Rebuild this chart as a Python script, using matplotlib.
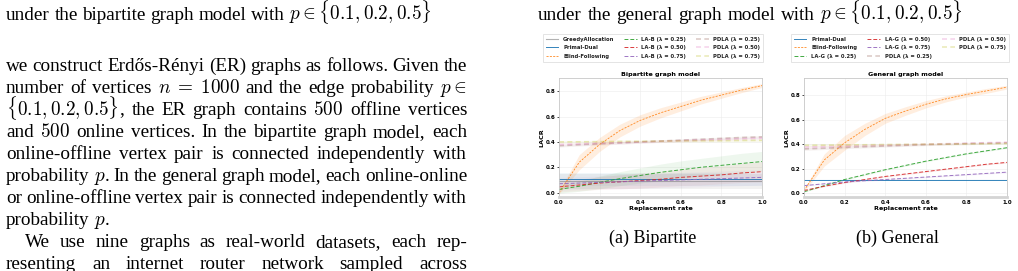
import numpy as np
import matplotlib
matplotlib.use('Agg')
import matplotlib.pyplot as plt

plt.rcParams['mathtext.fontset'] = 'cm'

W, H = 1018, 271

# replacement rate (x axis)
rate = [0.0, 0.1, 0.2, 0.3, 0.4, 0.5, 0.6, 0.7, 0.8, 0.9, 1.0]

# --- bipartite graph model: mean LACR and spread ---
greedy_b = [0.088, 0.088, 0.088, 0.088, 0.088, 0.088, 0.088, 0.088, 0.088, 0.088, 0.088]
greedy_b_sd = [0.06, 0.06, 0.06, 0.06, 0.06, 0.06, 0.06, 0.06, 0.06, 0.06, 0.06]
pd_b = [0.104, 0.104, 0.104, 0.104, 0.104, 0.104, 0.104, 0.104, 0.104, 0.104, 0.104]
pd_b_sd = [0.05, 0.05, 0.05, 0.05, 0.05, 0.05, 0.05, 0.05, 0.05, 0.05, 0.05]
blind_b = [0.0, 0.24, 0.38, 0.49, 0.57, 0.63, 0.68, 0.73, 0.77, 0.81, 0.845]
blind_b_sd = [0.01, 0.06, 0.055, 0.05, 0.045, 0.04, 0.035, 0.03, 0.025, 0.02, 0.015]
lab025 = [0.025, 0.05, 0.08, 0.11, 0.135, 0.16, 0.18, 0.20, 0.215, 0.23, 0.245]
lab025_sd = [0.03, 0.04, 0.05, 0.055, 0.06, 0.065, 0.07, 0.07, 0.075, 0.08, 0.08]
lab050 = [0.045, 0.06, 0.075, 0.085, 0.095, 0.105, 0.12, 0.13, 0.14, 0.155, 0.165]
lab050_sd = [0.04, 0.045, 0.05, 0.055, 0.06, 0.06, 0.065, 0.07, 0.07, 0.075, 0.08]
lab075 = [0.07, 0.075, 0.08, 0.085, 0.09, 0.095, 0.10, 0.105, 0.11, 0.115, 0.12]
lab075_sd = [0.05, 0.05, 0.05, 0.055, 0.055, 0.055, 0.06, 0.06, 0.06, 0.06, 0.06]
pdla025_b = [0.37, 0.378, 0.385, 0.392, 0.40, 0.407, 0.414, 0.421, 0.428, 0.435, 0.44]
pdla050_b = [0.38, 0.385, 0.39, 0.395, 0.40, 0.405, 0.41, 0.415, 0.42, 0.425, 0.43]
pdla075_b = [0.40, 0.401, 0.402, 0.404, 0.405, 0.406, 0.408, 0.409, 0.41, 0.412, 0.413]
pdla_b_sd = [0.01, 0.01, 0.01, 0.01, 0.01, 0.01, 0.01, 0.01, 0.01, 0.01, 0.01]

# --- general graph model ---
pd_g = [0.11, 0.11, 0.11, 0.11, 0.11, 0.11, 0.11, 0.11, 0.11, 0.11, 0.11]
blind_g = [0.02, 0.27, 0.41, 0.52, 0.61, 0.67, 0.725, 0.77, 0.805, 0.835, 0.865]
blind_g_sd = [0.01, 0.05, 0.06, 0.05, 0.04, 0.035, 0.03, 0.025, 0.02, 0.02, 0.015]
lag025 = [0.01, 0.06, 0.11, 0.15, 0.19, 0.225, 0.26, 0.29, 0.32, 0.345, 0.37]
lag050 = [0.02, 0.055, 0.085, 0.11, 0.135, 0.155, 0.175, 0.195, 0.215, 0.235, 0.25]
lag075 = [0.06, 0.075, 0.09, 0.10, 0.11, 0.12, 0.13, 0.14, 0.15, 0.16, 0.17]
lag_sd = [0.003, 0.004, 0.005, 0.005, 0.005, 0.005, 0.005, 0.005, 0.005, 0.005, 0.005]
pdla025_g = [0.36, 0.366, 0.372, 0.378, 0.384, 0.39, 0.395, 0.399, 0.403, 0.406, 0.41]
pdla050_g = [0.375, 0.379, 0.383, 0.387, 0.391, 0.395, 0.399, 0.403, 0.407, 0.411, 0.415]
pdla075_g = [0.39, 0.391, 0.393, 0.394, 0.396, 0.397, 0.399, 0.4, 0.402, 0.403, 0.405]
pdla_g_sd = [0.012, 0.011, 0.01, 0.01, 0.009, 0.009, 0.008, 0.008, 0.008, 0.007, 0.007]

caption_a = r'under the bipartite graph model with $p\in\{0.1,0.2,0.5\}$'
caption_b = r'under the general graph model with $p\in\{0.1,0.2,0.5\}$'

body_lines = [
    (r'we construct Erdős-Rényi (ER) graphs as follows. Given the', True, 0),
    (r'number of vertices $n\;=\;1000$ and the edge probability $p\in$', True, 0),
    (r'$\{0.1,0.2,0.5\}$, the ER graph contains $500$ offline vertices', True, 0),
    (r'and $500$ online vertices. In the bipartite graph model, each', True, 0),
    (r'online-offline vertex pair is connected independently with', True, 0),
    (r'probability $p$. In the general graph model, each online-online', True, 0),
    (r'or online-offline vertex pair is connected independently with', True, 0),
    (r'probability $p$.', False, 0),
    (r'We use nine graphs as real-world datasets, each rep-', True, 19),
    (r'resenting an internet router network sampled across', True, 0),
]

fig = plt.figure(figsize=(W / 100, H / 100), dpi=100)
renderer = fig.canvas.get_renderer()
serif = dict(family='Liberation Serif', size=13.8)
cap_font = dict(family='Liberation Serif', size=13)


def put_line(line, x0, x1, base, justify=True, font=serif, gap=4.6):
    words = line.split(' ')
    texts = [fig.text(0, 1 - base / H, w, ha='left', va='baseline', **font) for w in words]
    widths = [t.get_window_extent(renderer).width for t in texts]
    if justify and len(words) > 1:
        gap = (x1 - x0 - sum(widths)) / (len(words) - 1)
    x = x0
    for t, w in zip(texts, widths):
        t.set_x(x / W)
        x += w + gap


put_line(caption_a, 6, 467, 19.5, justify=False)
put_line(caption_b, 538, 1010, 19.5, justify=False, gap=5.6)
for i, (line, just, indent) in enumerate(body_lines):
    put_line(line, 6 + indent, 467, 71 + 22 * i, justify=just)

fig.text(653 / W, 1 - 243 / H, '(a) Bipartite', ha='center', va='baseline', **cap_font)
fig.text(897 / W, 1 - 243 / H, '(b) General', ha='center', va='baseline', **cap_font)

ax1 = fig.add_axes([559 / W, 1 - 197 / H, 203 / W, 119 / H])
ax2 = fig.add_axes([804 / W, 1 - 197 / H, 203 / W, 119 / H])

band = 0.13


def curve(ax, y, sd, color, ls, lw, alpha, label, band_alpha=band):
    lo = [a - b for a, b in zip(y, sd)]
    hi = [a + b for a, b in zip(y, sd)]
    ax.fill_between(rate, lo, hi, color=color, alpha=band_alpha, lw=0)
    line, = ax.plot(rate, y, color=color, ls=ls, lw=lw, alpha=alpha, label=label)
    return line


lad = (0, (4, 2))
bfd = (0, (2.5, 1.5))
pdd = (0, (3, 2))

h1 = []
h1.append(curve(ax1, greedy_b, greedy_b_sd, 'tab:gray', '-', 0.8, 0.6, 'GreedyAllocation', 0.1))
h1.append(curve(ax1, pd_b, pd_b_sd, 'tab:blue', '-', 0.7, 0.9, 'Primal-Dual', 0.06))
h1.append(curve(ax1, blind_b, blind_b_sd, 'tab:orange', bfd, 0.6, 0.9, 'Blind-Following'))
h1.append(curve(ax1, lab025, lab025_sd, 'tab:green', lad, 0.7, 0.9, 'LA-B (λ = 0.25)', 0.08))
h1.append(curve(ax1, lab050, lab050_sd, 'tab:red', lad, 0.7, 0.9, 'LA-B (λ = 0.50)', 0.06))
h1.append(curve(ax1, lab075, lab075_sd, 'tab:purple', lad, 0.7, 0.9, 'LA-B (λ = 0.75)', 0.06))
h1.append(curve(ax1, pdla025_b, pdla_b_sd, 'tab:brown', pdd, 1.2, 0.3, 'PDLA (λ = 0.25)', 0.08))
h1.append(curve(ax1, pdla050_b, pdla_b_sd, 'tab:pink', pdd, 1.2, 0.3, 'PDLA (λ = 0.50)', 0.08))
h1.append(curve(ax1, pdla075_b, pdla_b_sd, 'tab:olive', pdd, 1.2, 0.3, 'PDLA (λ = 0.75)', 0.08))

h2 = []
h2.append(curve(ax2, pd_g, lag_sd, 'tab:blue', '-', 0.7, 0.9, 'Primal-Dual', 0.05))
h2.append(curve(ax2, blind_g, blind_g_sd, 'tab:orange', bfd, 0.6, 0.9, 'Blind-Following'))
h2.append(curve(ax2, lag025, lag_sd, 'tab:green', lad, 0.7, 0.9, 'LA-G (λ = 0.25)', 0.1))
h2.append(curve(ax2, lag050, lag_sd, 'tab:red', lad, 0.7, 0.9, 'LA-G (λ = 0.50)', 0.1))
h2.append(curve(ax2, lag075, lag_sd, 'tab:purple', lad, 0.7, 0.9, 'LA-G (λ = 0.75)', 0.1))
h2.append(curve(ax2, pdla025_g, pdla_g_sd, 'tab:brown', pdd, 1.2, 0.3, 'PDLA (λ = 0.25)', 0.08))
h2.append(curve(ax2, pdla050_g, pdla_g_sd, 'tab:pink', pdd, 1.2, 0.3, 'PDLA (λ = 0.50)', 0.08))
h2.append(curve(ax2, pdla075_g, pdla_g_sd, 'tab:olive', pdd, 1.2, 0.3, 'PDLA (λ = 0.75)', 0.08))

for ax, title, ylim in [(ax1, 'Bipartite graph model', (-0.035, 0.905)),
                        (ax2, 'General graph model', (-0.033, 0.94))]:
    ax.set_xlim(0, 1)
    ax.set_ylim(*ylim)
    ax.set_xticks([0, 0.2, 0.4, 0.6, 0.8, 1.0])
    ax.set_xticklabels(['0.0', '0.2', '0.4', '0.6', '0.8', '1.0'])
    ax.set_yticks([0, 0.2, 0.4, 0.6, 0.8])
    ax.set_yticklabels(['0.0', '0.2', '0.4', '0.6', '0.8'])
    ax.tick_params(labelsize=4, length=1.5, width=0.5, pad=1)
    ax.tick_params(axis='x', length=0, pad=2)
    for lbl in ax.get_xticklabels() + ax.get_yticklabels():
        lbl.set_fontweight('bold')
    ax.grid(True, color='#ececec', lw=0.4)
    ax.set_axisbelow(True)
    for s in ax.spines.values():
        s.set_color('#c8c8c8')
        s.set_linewidth(0.6)
    ax.spines['bottom'].set_linewidth(2.0)
    ax.spines['bottom'].set_color('#d4d4d4')
    ax.set_title(title, fontsize=4.6, fontweight='bold', pad=1.5)
    ax.set_xlabel('Replacement rate', fontsize=4.6, fontweight='bold', labelpad=1)
    ax.set_ylabel('LACR', fontsize=4.6, fontweight='bold', labelpad=1)

leg_kw = dict(loc='upper left', mode='expand', ncol=3, borderaxespad=0,
              prop={'size': 3.8, 'weight': 'bold'}, frameon=True, fancybox=False,
              edgecolor='#d0d0d0', handlelength=2.4, handletextpad=0.9,
              labelspacing=0.7, borderpad=0.5)
leg1 = fig.legend(handles=h1, bbox_to_anchor=(543 / W, 1 - 65 / H, 220 / W, 31 / H), **leg_kw)
leg2 = fig.legend(handles=h2, bbox_to_anchor=(791 / W, 1 - 65 / H, 218 / W, 31 / H), **leg_kw)
for leg in (leg1, leg2):
    leg.get_frame().set_linewidth(0.5)
    for t in leg.get_texts():
        t.set_color('#222222')

fig.savefig('out.png', dpi=100)
